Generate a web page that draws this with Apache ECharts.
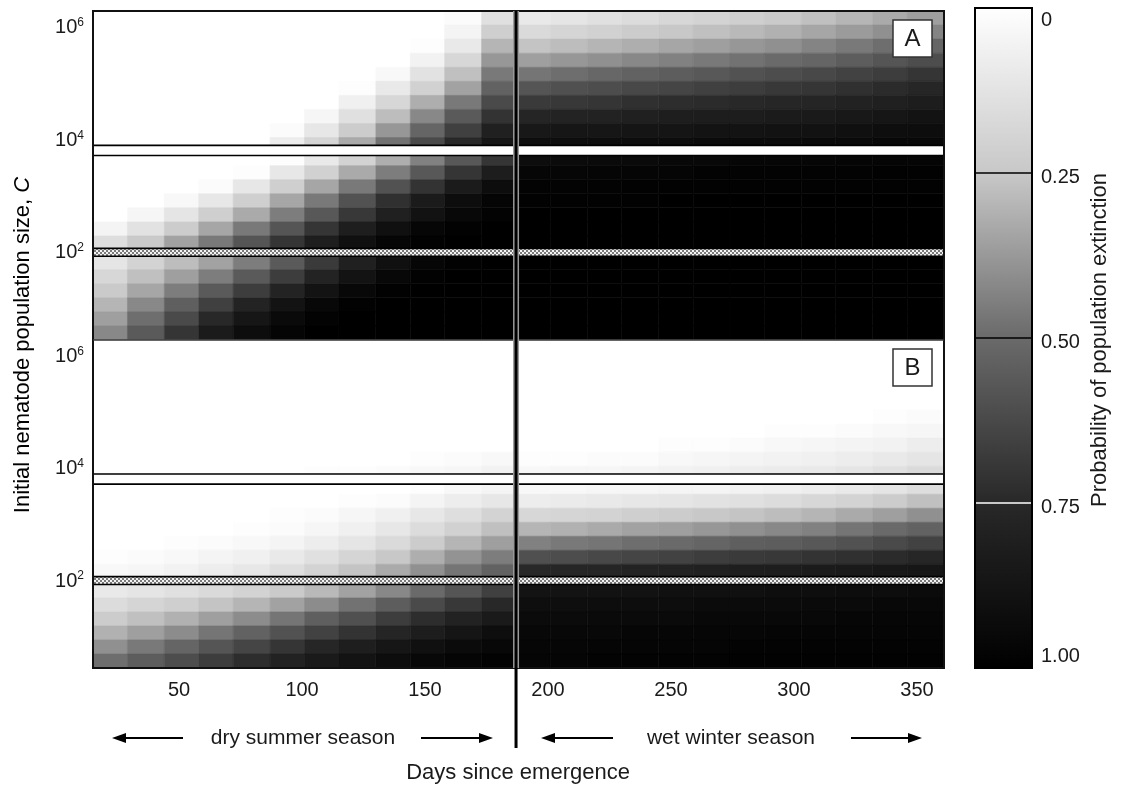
<!DOCTYPE html>
<html><head><meta charset="utf-8">
<script src="https://cdn.jsdelivr.net/npm/echarts@6/dist/echarts.min.js"></script>
<style>html,body{margin:0;padding:0;background:#fff}#c{width:1136px;height:786px}</style>
</head><body><div id="c"></div>
<script>
// ---------------- data ----------------
const xTicks = [50, 100, 150, 200, 250, 300, 350];
const yTicks = [2, 4, 6];                 // log10 of C
const cbTicks = [0, 0.25, 0.5, 0.75, 1];
const cbTickLabels = ['0', '0.25', '0.50', '0.75', '1.00'];
const dayRange = [15, 361];
const logRange = [0.45, 6.3];
const seasonSplit = 187;
const whiteBand = [3.73, 3.91];
const hatchBand = [1.94, 2.08];
// column edges (days): 12 dry + 12 wet columns
const dayEdges = [15,29,44,58,72,87,101,115,130,144,158,173,187,201,216,230,245,259,274,288,303,317,332,346,361];
// row edges (log10 C), listed top to bottom for each section
const topEdges = [6.3,6.05,5.8,5.55,5.3,5.05,4.8,4.55,4.3,4.05,3.8];
const midEdges = [3.8,3.55,3.3,3.05,2.8,2.55,2.3,2.05];
const botEdges = [1.95,1.7,1.45,1.2,0.95,0.7,0.45];
// extinction probability x100, rows top->bottom, 24 columns (dry | wet)
const A_top = [
 [0,0,0,0,0,0,0,0,0,0,2,14,       10,12,14,16,18,20,22,24,27,30,33,36],
 [0,0,0,0,0,0,0,0,0,0,5,22,       17,19,21,23,25,27,29,31,34,37,40,43],
 [0,0,0,0,0,0,0,0,0,1,10,30,      26,28,30,32,34,36,38,40,43,46,49,52],
 [0,0,0,0,0,0,0,0,0,6,18,38,      36,38,40,42,44,46,48,50,52,55,58,61],
 [0,0,0,0,0,0,0,0,3,13,27,46,     47,49,51,53,55,57,59,61,63,65,67,70],
 [0,0,0,0,0,0,0,1,10,21,35,53,    58,60,61,63,64,66,67,69,70,72,74,76],
 [0,0,0,0,0,0,0,7,18,32,46,62,    68,69,70,72,73,74,75,76,77,79,80,82],
 [0,0,0,0,0,0,4,14,28,42,56,71,   77,78,79,80,81,82,82,83,84,85,86,88],
 [0,0,0,0,0,2,11,23,38,52,66,80,  85,86,86,87,87,88,88,89,89,90,91,92],
 [0,0,0,0,0,8,19,33,48,62,75,86,  91,91,92,92,92,93,93,93,94,94,95,95]
];
const A_mid = [
 [0,0,0,0,0,1,10,20,32,44,57,70,      92,93,94,94,95,95,96,96,96,97,97,97],
 [0,0,0,0,1,11,21,33,45,57,70,82,     96,96,97,97,97,98,98,98,98,98,99,99],
 [0,0,0,2,11,22,34,46,59,71,83,92,    98,98,98,99,99,99,99,99,99,99,99,99],
 [0,0,3,11,22,34,46,59,72,83,92,97,   99,99,99,99,100,100,100,100,100,100,100,100],
 [0,4,12,22,33,45,57,69,80,89,95,98,  100,100,100,100,100,100,100,100,100,100,100,100],
 [5,13,23,34,46,58,70,81,90,96,99,100, 100,100,100,100,100,100,100,100,100,100,100,100],
 [15,24,35,46,58,70,81,90,96,99,100,100, 100,100,100,100,100,100,100,100,100,100,100,100]
];
const A_bot = [
 [12,20,28,35,45,56,68,80,90,96,99,100,  100,100,100,100,100,100,100,100,100,100,100,100],
 [18,27,36,45,56,67,78,88,95,99,100,100, 100,100,100,100,100,100,100,100,100,100,100,100],
 [24,34,45,56,67,78,88,95,99,100,100,100, 100,100,100,100,100,100,100,100,100,100,100,100],
 [30,42,54,66,78,88,95,99,100,100,100,100, 100,100,100,100,100,100,100,100,100,100,100,100],
 [36,49,62,75,86,94,98,100,100,100,100,100, 100,100,100,100,100,100,100,100,100,100,100,100],
 [42,56,70,83,92,97,100,100,100,100,100,100, 100,100,100,100,100,100,100,100,100,100,100,100]
];
const B_top = [
 [0,0,0,0,0,0,0,0,0,0,0,0,  0,0,0,0,0,0,0,0,0,0,0,0],
 [0,0,0,0,0,0,0,0,0,0,0,0,  0,0,0,0,0,0,0,0,0,0,0,0],
 [0,0,0,0,0,0,0,0,0,0,0,0,  0,0,0,0,0,0,0,0,0,0,0,0],
 [0,0,0,0,0,0,0,0,0,0,0,0,  0,0,0,0,0,0,0,0,0,0,0,0],
 [0,0,0,0,0,0,0,0,0,0,0,0,  0,0,0,0,0,0,0,0,0,0,0,0],
 [0,0,0,0,0,0,0,0,0,0,0,0,  0,0,0,0,0,0,0,0,0,0,1,2],
 [0,0,0,0,0,0,0,0,0,0,0,0,  0,0,0,0,0,0,0,1,1,2,3,4],
 [0,0,0,0,0,0,0,0,0,0,0,0,  0,0,0,0,1,1,2,3,4,5,6,8],
 [0,0,0,0,0,0,0,0,0,1,2,3,  1,1,2,2,3,4,5,6,7,8,10,12],
 [0,0,0,0,0,0,1,1,2,3,4,6,  3,4,4,5,6,7,8,9,10,12,14,17]
];
const B_mid = [
 [0,0,0,0,0,0,0,0,0,1,3,5,        3,3,4,4,5,5,6,7,8,10,12,15],
 [0,0,0,0,0,0,0,1,2,5,8,11,       8,9,10,11,12,13,14,16,18,20,23,27],
 [0,0,0,0,0,1,2,4,7,11,15,20,     18,19,20,22,23,25,26,28,30,33,36,40],
 [0,0,0,0,1,2,4,7,11,16,21,27,    30,31,33,35,36,38,40,42,44,47,50,53],
 [0,0,1,2,3,5,8,12,17,23,30,36,   44,46,47,49,50,52,54,55,57,59,62,65],
 [1,2,3,5,7,10,14,19,25,32,39,45, 60,61,63,64,65,67,68,69,71,72,74,76],
 [3,4,6,8,11,15,20,26,33,40,47,53, 75,76,77,78,79,80,81,82,83,84,85,86]
];
const B_bot = [
 [10,12,14,17,20,24,29,35,42,50,58,66,  88,88,89,89,90,90,90,91,91,92,92,93],
 [16,19,22,26,30,35,41,48,55,62,69,75,  91,91,92,92,92,93,93,93,94,94,95,95],
 [23,27,31,36,41,47,54,60,67,73,79,84,  93,93,94,94,94,95,95,95,95,96,96,96],
 [31,36,41,47,53,59,65,71,77,82,87,91,  95,95,95,96,96,96,96,97,97,97,97,97],
 [40,46,52,58,64,70,76,81,86,90,93,95,  96,96,97,97,97,97,98,98,98,98,98,98],
 [49,55,61,67,73,79,84,88,92,95,97,98,  97,97,98,98,98,98,99,99,99,99,99,99]
];
// grey ramp of the colour bar (0 -> 1)
const greyRamp = ['#ffffff', '#c8c8c8', '#6a6a6a', '#282828', '#000000'];

// ---------------- build ----------------
const FONT = '"Liberation Sans", Arial, Helvetica, sans-serif';
const TXT = '#1a1a1a';
function cells(matrix, edges) {
  const out = [];
  matrix.forEach((row, r) => row.forEach((v, c) => {
    out.push([dayEdges[c], dayEdges[c + 1], edges[r + 1], edges[r], v / 100]);
  }));
  return out;
}
const panelA = cells(A_top, topEdges).concat(cells(A_mid, midEdges), cells(A_bot, botEdges));
const panelB = cells(B_top, topEdges).concat(cells(B_mid, midEdges), cells(B_bot, botEdges));

const hatch = document.createElement('canvas');
hatch.width = 4; hatch.height = 4;
(function () {
  const g = hatch.getContext('2d');
  g.fillStyle = '#f2f2f2'; g.fillRect(0, 0, 4, 4);
  g.fillStyle = '#7a7a7a'; g.fillRect(0, 0, 2, 2); g.fillRect(2, 2, 2, 2);
})();

function renderCell(params, api) {
  const a = api.coord([api.value(0), api.value(3)]);
  const b = api.coord([api.value(1), api.value(2)]);
  const col = api.visual('color');
  return { type: 'rect', shape: { x: a[0], y: a[1], width: b[0] - a[0], height: b[1] - a[1] },
           style: { fill: col, stroke: col, lineWidth: 0.6 } };
}
function renderBand(params, api) {
  const a = api.coord([api.value(0), api.value(3)]);
  const b = api.coord([api.value(1), api.value(2)]);
  const kind = api.value(4);
  return { type: 'rect', shape: { x: a[0], y: a[1], width: b[0] - a[0], height: b[1] - a[1] },
           style: { fill: kind === 1 ? { type: 'pattern', image: hatch, repeat: 'repeat' } : '#ffffff', stroke: '#000', lineWidth: 1.6 } };
}
const bandData = [
  [dayRange[0], dayRange[1], whiteBand[0], whiteBand[1], 0],
  [dayRange[0], dayRange[1], hatchBand[0], hatchBand[1], 1]
];
function renderColorBar(params, api) {
  const t = api.coord([0, 0]);
  const b = api.coord([1, 1]);
  const stops = greyRamp.map((c, i) => ({ offset: i / (greyRamp.length - 1), color: c }));
  const kids = [{ type: 'rect', shape: { x: t[0], y: t[1], width: b[0] - t[0], height: b[1] - t[1] },
                  style: { fill: new echarts.graphic.LinearGradient(0, 0, 0, 1, stops), stroke: '#000', lineWidth: 2 } }];
  [0.25, 0.5, 0.75].forEach(v => {
    const p = api.coord([0, v]);
    kids.push({ type: 'line', shape: { x1: t[0] + 1, y1: p[1], x2: b[0] - 1, y2: p[1] },
                style: { stroke: v === 0.75 ? '#ffffff' : '#000000', lineWidth: 1.6 } });
  });
  return { type: 'group', children: kids };
}

const yRich = {
  b: { fontSize: 20, fontFamily: FONT, color: TXT, lineHeight: 22 },
  s: { fontSize: 12, fontFamily: FONT, color: TXT, verticalAlign: 'top', lineHeight: 12 }
};
function yAxisFor(grid) {
  return { gridIndex: grid, type: 'value', min: logRange[0], max: logRange[1],
    axisLine: { show: false }, axisTick: { show: false }, splitLine: { show: false },
    axisLabel: { customValues: yTicks, margin: 9, formatter: v => '{b|10}{s|' + v + '}', rich: yRich } };
}

const chart = echarts.init(document.getElementById('c'), null, { renderer: 'canvas' });
const option = {
  animation: false,
  backgroundColor: '#ffffff',
  grid: [
    { left: 93, top: 11, width: 851, height: 329 },
    { left: 93, top: 340, width: 851, height: 328 },
    { left: 975, top: 8, width: 57, height: 660 }
  ],
  xAxis: [
    { gridIndex: 0, type: 'value', min: dayRange[0], max: dayRange[1], axisLine: { show: false }, axisTick: { show: false }, axisLabel: { show: false }, splitLine: { show: false } },
    { gridIndex: 1, type: 'value', min: dayRange[0], max: dayRange[1], axisLine: { show: false }, axisTick: { show: false }, splitLine: { show: false },
      axisLabel: { customValues: xTicks, margin: 12, fontSize: 20, fontFamily: FONT, color: TXT } },
    { gridIndex: 2, type: 'value', min: 0, max: 1, show: false }
  ],
  yAxis: [
    yAxisFor(0), yAxisFor(1),
    { gridIndex: 2, type: 'value', min: 0, max: 1, inverse: true, show: false }
  ],
  visualMap: { type: 'continuous', show: false, min: 0, max: 1, dimension: 4, seriesIndex: [0, 1], inRange: { color: greyRamp } },
  series: [
    { type: 'custom', xAxisIndex: 0, yAxisIndex: 0, data: panelA, renderItem: renderCell, encode: { x: [0, 1], y: [2, 3] }, z: 2 },
    { type: 'custom', xAxisIndex: 1, yAxisIndex: 1, data: panelB, renderItem: renderCell, encode: { x: [0, 1], y: [2, 3] }, z: 2 },
    { type: 'custom', xAxisIndex: 0, yAxisIndex: 0, data: bandData, renderItem: renderBand, encode: { x: [0, 1], y: [2, 3] }, z: 3 },
    { type: 'custom', xAxisIndex: 1, yAxisIndex: 1, data: bandData, renderItem: renderBand, encode: { x: [0, 1], y: [2, 3] }, z: 3 },
    { type: 'custom', xAxisIndex: 2, yAxisIndex: 2, data: [[0, 0]], renderItem: renderColorBar, encode: { x: 0, y: 1 }, z: 3 }
  ]
};
chart.setOption(option);

// ---------- overlays positioned through the chart's own scales ----------
const xDiv = chart.convertToPixel({ xAxisIndex: 1 }, seasonSplit);
const gA = { x: 93, y: 11, w: 851, h: 329 };
const gB = { x: 93, y: 340, w: 851, h: 328 };
const g = [];
g.push({ type: 'rect', z: 10, shape: { x: gA.x, y: gA.y, width: gA.w, height: gA.h + gB.h }, style: { fill: null, stroke: '#111', lineWidth: 2 } });
g.push({ type: 'line', z: 10, shape: { x1: gA.x, y1: gB.y, x2: gA.x + gA.w, y2: gB.y }, style: { stroke: '#333', lineWidth: 1.5 } });
g.push({ type: 'line', z: 10, shape: { x1: xDiv, y1: gA.y, x2: xDiv, y2: gB.y + gB.h }, style: { stroke: '#9a9a9a', lineWidth: 6 } });
g.push({ type: 'line', z: 11, shape: { x1: xDiv, y1: gA.y, x2: xDiv, y2: 748 }, style: { stroke: '#000', lineWidth: 3 } });
// panel letters
[['A', gA], ['B', gB]].forEach(([t, gg]) => {
  g.push({ type: 'rect', z: 12, shape: { x: gg.x + gg.w - 51, y: gg.y + 9, width: 39, height: 37 }, style: { fill: '#fff', stroke: '#333', lineWidth: 1.5 } });
  g.push({ type: 'text', z: 13, x: gg.x + gg.w - 31.5, y: gg.y + 28, style: { text: t, font: '24px ' + FONT, fill: TXT, align: 'center', verticalAlign: 'middle' } });
});
// axis titles
g.push({ type: 'text', z: 10, x: 23, y: 345, rotation: Math.PI / 2,
  style: { text: '{n|Initial nematode population size, }{i|C}', align: 'center', verticalAlign: 'middle',
    rich: { n: { fontSize: 22, fontFamily: FONT, color: TXT }, i: { fontSize: 22, fontFamily: FONT, fontStyle: 'italic', color: TXT } } } });
g.push({ type: 'text', z: 10, x: xDiv + 2, y: 773, style: { text: 'Days since emergence', font: '22px ' + FONT, fill: TXT, align: 'center', verticalAlign: 'middle' } });
g.push({ type: 'text', z: 10, x: 1100, y: 340, rotation: Math.PI / 2, style: { text: 'Probability of population extinction', font: '22px ' + FONT, fill: TXT, align: 'center', verticalAlign: 'middle' } });
// seasons
const seasonY = 738;
g.push({ type: 'text', z: 10, x: 303, y: seasonY, style: { text: 'dry summer season', font: '21px ' + FONT, fill: TXT, align: 'center', verticalAlign: 'middle' } });
g.push({ type: 'text', z: 10, x: 731, y: seasonY, style: { text: 'wet winter season', font: '21px ' + FONT, fill: TXT, align: 'center', verticalAlign: 'middle' } });
function arrow(x1, x2, dir) {
  const tip = dir < 0 ? x1 : x2;
  const base = tip - dir * 14;
  g.push({ type: 'line', z: 10, shape: { x1: dir < 0 ? base : x1, y1: seasonY, x2: dir < 0 ? x2 : base, y2: seasonY }, style: { stroke: '#000', lineWidth: 2.2 } });
  g.push({ type: 'polygon', z: 10, shape: { points: [[tip, seasonY], [base, seasonY - 5], [base, seasonY + 5]] }, style: { fill: '#000' } });
}
arrow(112, 183, -1); arrow(421, 493, 1); arrow(541, 613, -1); arrow(851, 922, 1);
// colour bar labels
cbTicks.forEach((v, i) => {
  const y = chart.convertToPixel({ yAxisIndex: 2 }, v);
  let va = 'middle', dy = 4;
  if (i === 0) { va = 'top'; dy = 2; }
  if (i === cbTicks.length - 1) { va = 'bottom'; dy = -2; }
  g.push({ type: 'text', z: 10, x: 1041, y: y + dy, style: { text: cbTickLabels[i], font: '20px ' + FONT, fill: TXT, align: 'left', verticalAlign: va } });
});
chart.setOption({ graphic: { elements: g } });
</script></body></html>
